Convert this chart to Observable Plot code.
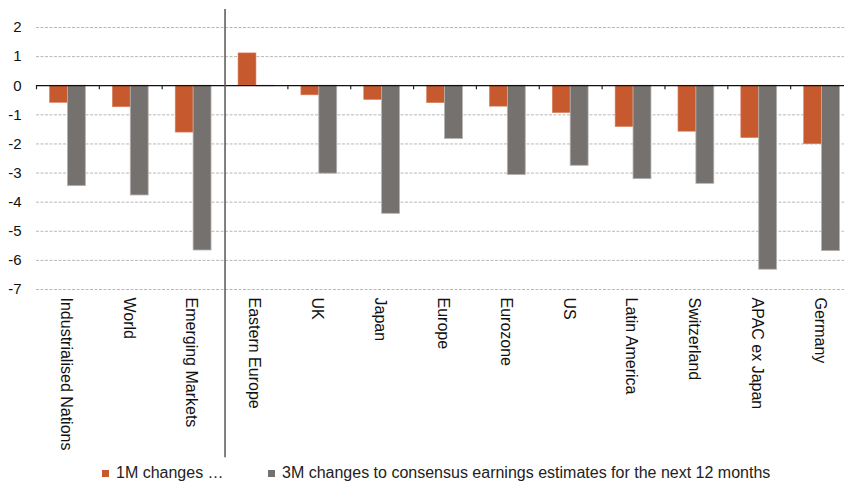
<!DOCTYPE html>
<html>
<head>
<meta charset="utf-8">
<script src="https://cdn.jsdelivr.net/npm/d3@7"></script>
<script src="https://cdn.jsdelivr.net/npm/@observablehq/plot@0.6"></script>
<style>
  html, body { margin: 0; padding: 0; background: #fff; }
  #wrap { position: relative; width: 844px; height: 484px; overflow: hidden; font-family: "Liberation Sans", Arial, sans-serif; }
  .leg { position: absolute; top: 464px; font-size: 16px; line-height: 18px; color: #222; white-space: nowrap; }
  .sw { display: inline-block; width: 7px; height: 7px; margin-right: 7px; vertical-align: 1px; }
</style>
</head>
<body>
<div id="wrap"></div>
<script>
const categories = ["Industrialised Nations", "World", "Emerging Markets", "Eastern Europe", "UK", "Japan", "Europe", "Eurozone", "US", "Latin America", "Switzerland", "APAC ex Japan", "Germany"];
const oneMonth = [-0.59, -0.74, -1.61, 1.11, -0.33, -0.49, -0.60, -0.72, -0.94, -1.42, -1.58, -1.80, -2.01];
const threeMonth = [-3.45, -3.77, -5.66, -0.02, -3.02, -4.40, -1.83, -3.07, -2.75, -3.21, -3.37, -6.32, -5.68];
const yTicks = [2, 1, 0, -1, -2, -3, -4, -5, -6, -7];
const seriesNames = ["1M changes \u2026", "3M changes to consensus earnings estimates for the next 12 months"];
const colors = ["#C65A2E", "#75716E"];

const rows1 = categories.map((c, i) => ({category: c, value: oneMonth[i]}));
const rows3 = categories.map((c, i) => ({category: c, value: threeMonth[i]}));

const W = 844, H = 460;
const x0 = 36, x1 = 853;
const step = (x1 - x0) / categories.length;
const half = step / 2;
const bw = step * 0.57;

const chart = Plot.plot({
  width: W,
  height: H,
  marginLeft: 36,
  marginRight: 0,
  marginTop: 27,
  marginBottom: 171,
  style: {fontFamily: "Liberation Sans, Arial, sans-serif", color: "#111", background: "#fff"},
  x: {domain: categories, range: [x0, x1], paddingInner: 0.43, paddingOuter: 0.215, round: false},
  y: {domain: [-7, 2]},
  marks: [
    Plot.ruleY(yTicks.filter(d => d !== 0), {stroke: "#b8b8b8", strokeDasharray: "3,1.5", strokeWidth: 1}),
    Plot.barY(rows1, {x: "category", y: "value", fill: colors[0], stroke: "#d98260", strokeWidth: 0.6, insetRight: bw / 2}),
    Plot.barY(rows3, {x: "category", y: "value", fill: colors[1], stroke: "#b5b2b0", strokeWidth: 0.8, insetLeft: bw / 2}),
    Plot.ruleY([0], {stroke: "#111", strokeWidth: 1.3}),
    Plot.ruleX(categories.filter(c => c !== "Eastern Europe"), {x: d => d, dx: -half, y1: 0, y2: -0.14, stroke: "#222", strokeWidth: 1.2}),
    Plot.ruleX(["Eastern Europe"], {x: d => d, dx: -half, y1: 2.62, y2: -12.78, stroke: "#555", strokeWidth: 1.5}),
    Plot.axisY({ticks: yTicks, tickSize: 0, tickPadding: 15, fontSize: 15, tickFormat: d => String(d), label: null}),
    Plot.axisX({tickSize: 0, tickPadding: 8, tickRotate: 90, fontSize: 16, textAnchor: "start", dx: -2, label: null})
  ]
});

const wrap = document.getElementById("wrap");
wrap.appendChild(chart);
const legLeft = [102, 268];
seriesNames.forEach((name, i) => {
  const d = document.createElement("div");
  d.className = "leg";
  d.style.left = legLeft[i] + "px";
  const sw = document.createElement("span");
  sw.className = "sw";
  sw.style.background = colors[i];
  d.appendChild(sw);
  d.appendChild(document.createTextNode(name));
  wrap.appendChild(d);
});
</script>
</body>
</html>
